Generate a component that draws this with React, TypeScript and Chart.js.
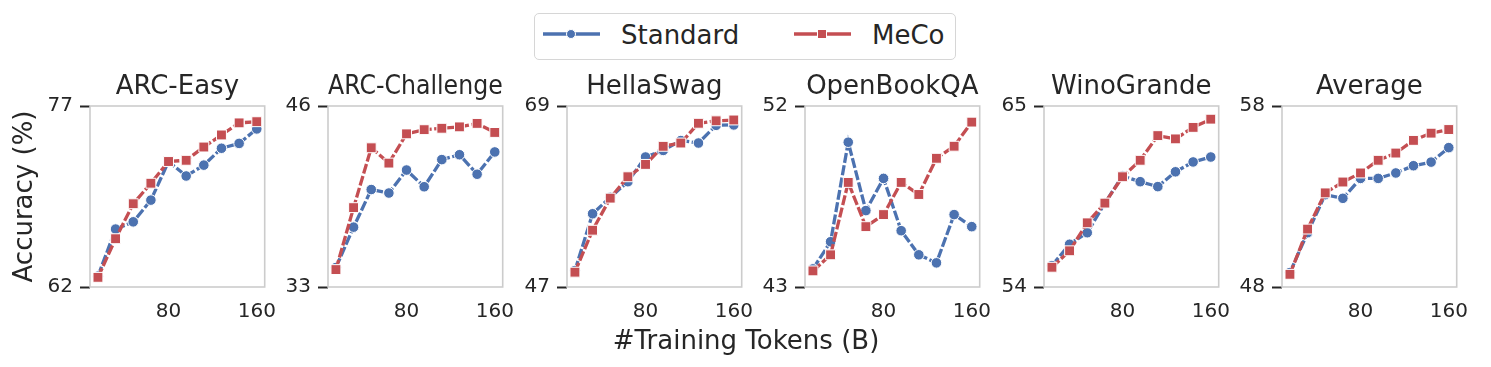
import React, { useEffect, useRef } from "react";
import { Chart, registerables } from "chart.js";

Chart.register(...registerables);

// ---------- data ----------
const TOKENS = [16, 32, 48, 64, 80, 96, 112, 128, 144, 160];
const X_TICKS = [80, 160];
const TASKS = ["ARC-Easy", "ARC-Challenge", "HellaSwag", "OpenBookQA", "WinoGrande", "Average"];
const Y_MIN = [62, 33, 47, 43, 54, 48];
const Y_MAX = [77, 46, 69, 52, 65, 58];
const SERIES_NAMES = ["Standard", "MeCo"];

const arcEasyStandard = [62.9, 66.8, 67.4, 69.2, 72.4, 71.2, 72.1, 73.5, 73.9, 75.1];
const arcEasyMeco = [62.8, 66.0, 68.9, 70.6, 72.4, 72.5, 73.6, 74.6, 75.6, 75.7];
const arcChallengeStandard = [34.4, 37.3, 40.0, 39.75, 41.4, 40.2, 42.15, 42.5, 41.1, 42.7];
const arcChallengeMeco = [34.25, 38.7, 43.0, 41.9, 44.0, 44.3, 44.4, 44.5, 44.75, 44.1];
const hellaswagStandard = [49.0, 55.9, 57.9, 59.8, 62.8, 63.6, 64.8, 64.5, 66.65, 66.7];
const hellaswagMeco = [48.8, 53.9, 57.8, 60.4, 61.9, 64.1, 64.5, 66.9, 67.2, 67.3];
const openbookqaStandard = [43.9, 45.25, 50.2, 46.8, 48.4, 45.8, 44.6, 44.2, 46.6, 46.0];
const openbookqaMeco = [43.8, 44.6, 48.2, 46.0, 46.6, 48.2, 47.6, 49.4, 50.0, 51.2];
const winograndeStandard = [55.3, 56.6, 57.3, 59.1, 60.75, 60.4, 60.1, 61.0, 61.6, 61.9];
const winograndeMeco = [55.2, 56.2, 57.9, 59.1, 60.7, 61.7, 63.2, 63.0, 63.7, 64.2];
const averageStandard = [48.8, 51.0, 53.1, 52.9, 54.0, 54.0, 54.3, 54.7, 54.9, 55.7];
const averageMeco = [48.7, 51.2, 53.2, 53.8, 54.3, 55.0, 55.4, 56.1, 56.5, 56.7];

const STANDARD = [arcEasyStandard, arcChallengeStandard, hellaswagStandard, openbookqaStandard, winograndeStandard, averageStandard];
const MECO = [arcEasyMeco, arcChallengeMeco, hellaswagMeco, openbookqaMeco, winograndeMeco, averageMeco];

// ---------- style ----------
const FONT = "'DejaVu Sans', sans-serif";
const TEXT = "#262626";
const BLUE = "#4C72B0";
const RED = "#C44E52";
const X_MIN = 8.8;
const X_MAX = 167.2;

const PLOT_W = 184;
const PLOT_TOP = 106;
const PLOT_H = 181;
const PANEL_STEP = 238.4;
const FIRST_LEFT = 90;
const CANVAS_TOP = 60;
const TITLE_BLOCK = PLOT_TOP - CANVAS_TOP;
const X_AXIS_H = 40;
const RIGHT_PAD = 16;

const framePlugin = {
  id: "frame",
  beforeDatasetsDraw(chart: any) {
    const { ctx, chartArea } = chart;
    const { left, top, right, bottom } = chartArea;
    ctx.save();
    ctx.strokeStyle = "#cccccc";
    ctx.lineWidth = 1.6;
    ctx.strokeRect(left, top, right - left, bottom - top);
    ctx.restore();
  },
};

function Panel({ idx }: { idx: number }) {
  const ref = useRef<HTMLCanvasElement | null>(null);
  const yW = idx === 0 ? FIRST_LEFT : 60;
  const plotLeft = FIRST_LEFT + idx * PANEL_STEP;
  const width = Math.round(yW + PLOT_W + RIGHT_PAD);
  const height = TITLE_BLOCK + PLOT_H + X_AXIS_H;
  const left = plotLeft - yW;

  useEffect(() => {
    if (!ref.current) return;
    const mk = (vals: number[]) => vals.map((v, i) => ({ x: TOKENS[i], y: v }));
    const chart = new Chart(ref.current, {
      type: "line",
      data: {
        datasets: [
          {
            label: SERIES_NAMES[1],
            data: mk(MECO[idx]),
            borderColor: RED,
            backgroundColor: RED,
            borderWidth: 3.3,
            borderDash: [10, 2.5],
            pointStyle: "rect",
            pointRadius: 7,
            pointBackgroundColor: RED,
            pointBorderColor: "#ffffff",
            pointBorderWidth: 1,
            tension: 0,
          },
          {
            label: SERIES_NAMES[0],
            data: mk(STANDARD[idx]),
            borderColor: BLUE,
            backgroundColor: BLUE,
            borderWidth: 3.3,
            borderDash: [10, 2.5],
            pointStyle: "circle",
            pointRadius: 5.3,
            pointBackgroundColor: BLUE,
            pointBorderColor: "#ffffff",
            pointBorderWidth: 1,
            tension: 0,
          },
        ],
      },
      options: {
        responsive: false,
        maintainAspectRatio: false,
        animation: false,
        layout: { padding: { left: 0, right: RIGHT_PAD, top: 0, bottom: 0 } },
        plugins: {
          legend: { display: false },
          tooltip: { enabled: false },
          title: {
            display: true,
            text: TASKS[idx],
            fullSize: false,
            color: TEXT,
            font: { family: FONT, size: 26, weight: "normal", lineHeight: 1.2 },
            padding: { top: 12, bottom: TITLE_BLOCK - 12 - 31.2 },
          },
        },
        scales: {
          x: {
            type: "linear",
            min: X_MIN,
            max: X_MAX,
            afterBuildTicks: (s: any) => {
              s.ticks = X_TICKS.map((v) => ({ value: v }));
            },
            afterFit: (s: any) => {
              s.height = X_AXIS_H;
            },
            grid: { display: false, drawTicks: false },
            border: { display: false },
            ticks: {
              color: TEXT,
              font: { family: FONT, size: 20 },
              padding: 13,
              maxRotation: 0,
              autoSkip: false,
              callback: (v: any) => String(v),
            },
          },
          y: {
            type: "linear",
            min: Y_MIN[idx],
            max: Y_MAX[idx],
            afterBuildTicks: (s: any) => {
              s.ticks = [Y_MIN[idx], Y_MAX[idx]].map((v) => ({ value: v }));
            },
            afterFit: (s: any) => {
              s.width = yW;
            },
            grid: {
              display: true,
              drawOnChartArea: false,
              drawTicks: true,
              tickLength: 10,
              tickWidth: 2,
              tickColor: TEXT,
            },
            border: { display: false },
            title: idx === 0
              ? {
                  display: true,
                  text: "Accuracy (%)",
                  color: TEXT,
                  font: { family: FONT, size: 26, lineHeight: 1.2 },
                  padding: { top: 10, bottom: 0 },
                }
              : { display: false },
            ticks: {
              color: TEXT,
              font: { family: FONT, size: 20 },
              padding: 7,
              autoSkip: false,
              callback: (v: any) => String(v),
            },
          },
        },
      },
      plugins: [framePlugin],
    } as any);
    return () => chart.destroy();
  }, [idx]);

  return (
    <canvas
      ref={ref}
      width={width}
      height={height}
      style={{ position: "absolute", left, top: CANVAS_TOP, width, height }}
    />
  );
}

function LegendItem({ color, square, label, x }: { color: string; square: boolean; label: string; x: number }) {
  return (
    <>
      <svg
        width={60}
        height={20}
        style={{ position: "absolute", left: x, top: 24 }}
      >
        <line x1={1} y1={10} x2={58} y2={10} stroke={color} strokeWidth={3.3} />
        {square ? (
          <rect x={24.5} y={5.5} width={9} height={9} fill={color} stroke="#fff" strokeWidth={1} />
        ) : (
          <circle cx={29} cy={10} r={4.5} fill={color} stroke="#fff" strokeWidth={1} />
        )}
      </svg>
      <div
        style={{
          position: "absolute",
          left: x + 79,
          top: 19.5,
          fontFamily: FONT,
          fontSize: 26,
          lineHeight: "30px",
          color: TEXT,
          whiteSpace: "nowrap",
        }}
      >
        {label}
      </div>
    </>
  );
}

export default function App() {
  return (
    <div
      style={{
        position: "absolute",
        left: 0,
        top: 0,
        width: 1491,
        height: 367,
        background: "#ffffff",
        overflow: "hidden",
      }}
    >
      <div
        style={{
          position: "absolute",
          left: 534,
          top: 13,
          width: 420,
          height: 45,
          border: "1.5px solid #d6d6d6",
          borderRadius: 5,
        }}
      />
      <LegendItem color={BLUE} square={false} label={SERIES_NAMES[0]} x={542} />
      <LegendItem color={RED} square={true} label={SERIES_NAMES[1]} x={793} />
      {TASKS.map((_, i) => (
        <Panel key={i} idx={i} />
      ))}
      <div
        style={{
          position: "absolute",
          left: 546,
          width: 400,
          top: 325,
          textAlign: "center",
          fontFamily: FONT,
          fontSize: 26,
          lineHeight: "30px",
          color: TEXT,
          whiteSpace: "nowrap",
        }}
      >
        #Training Tokens (B)
      </div>
    </div>
  );
}
